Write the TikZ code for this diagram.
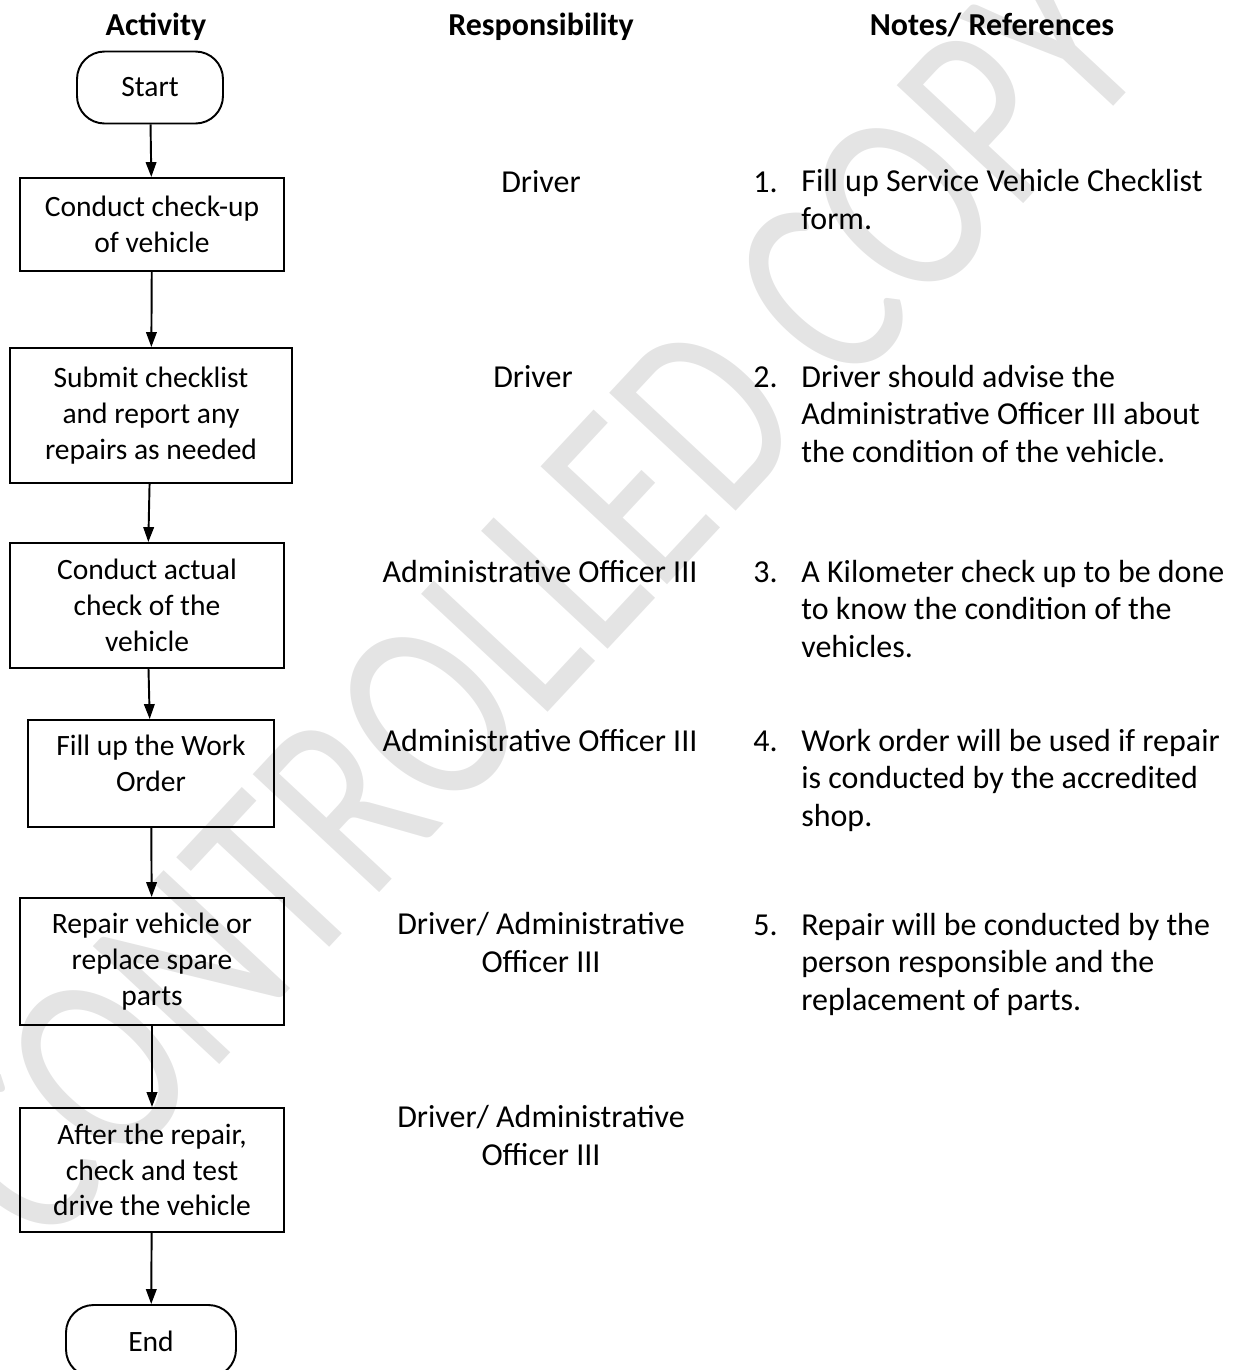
\documentclass[tikz,border=0pt]{standalone}
\usepackage{fontspec}
\setmainfont{Carlito}
\usepackage{tikz}
\usetikzlibrary{arrows.meta,positioning}
\definecolor{stampGray}{RGB}{228,228,228}
\newcommand{\flowfont}{\fontsize{18.2}{21.2}\selectfont}
\newcommand{\boxfont}{\fontsize{16.8}{20.4}\selectfont}
\tikzset{
  every node/.style={font=\flowfont},
  flowbox/.style={draw, line width=1.1pt, align=center, inner sep=2pt, font=\boxfont},
  terminal/.style={flowbox, rounded corners=0.55cm, minimum height=1.44cm},
  flowarrow/.style={line width=1.1pt, -{Triangle[length=8.5pt,width=6pt]}},
  colhead/.style={font=\flowfont\bfseries, anchor=base},
  resp/.style={align=center, anchor=base, inner sep=0pt},
  notenum/.style={anchor=base west, inner sep=0pt},
  notetext/.style={align=left, anchor=base west, inner sep=0pt},
}

\begin{document}
\begin{tikzpicture}[x=0.02cm, y=-0.02cm]
\useasboundingbox (0,0) rectangle (1235,1370);
\clip (0,0) rectangle (1235,1370);

% stamp behind everything
\node[text=stampGray, rotate=47, yscale=1.3, font=\fontsize{118}{118}\selectfont] (stamp) at (535,600) {CONTROLLED COPY};

\node[colhead] (hAct) at (156,35) {Activity};
\node[colhead] (hResp) at (541,35) {Responsibility};
\node[colhead] (hNotes) at (992,35) {Notes/ References};

% activity column
\node[terminal, minimum width=2.92cm] (start) at (150,87.5) {Start};
\node[flowbox, minimum width=5.28cm, minimum height=1.86cm] (act1) at (152,224.5) {Conduct check-up\\of vehicle};
\node[flowbox, minimum width=5.64cm, minimum height=2.7cm] (act2) at (151,415.5) {Submit checklist\\and report any\\repairs as needed};
\node[flowbox, minimum width=5.48cm, minimum height=2.5cm] (act3) at (147,605.5) {Conduct actual\\check of the\\vehicle};
\node[flowbox, minimum width=4.92cm, minimum height=2.14cm] (act4) at (151,773.5) {Fill up the Work\\Order\rule[-12pt]{0pt}{1pt}};
\node[flowbox, minimum width=5.28cm, minimum height=2.54cm] (act5) at (152,961.5) {Repair vehicle or\\replace spare\\parts};
\node[flowbox, minimum width=5.28cm, minimum height=2.48cm] (act6) at (152,1170) {After the repair,\\check and test\\drive the vehicle};
\node[terminal, minimum width=3.4cm] (finish) at (151,1341) {End};

\draw[flowarrow] (start) -- (act1);
\draw[flowarrow] (act1) -- (act2);
\draw[flowarrow] (act2) -- (act3);
\draw[flowarrow] (act3) -- (act4);
\draw[flowarrow] (act4) -- (act5);
\draw[flowarrow] (act5) -- (act6);
\draw[flowarrow] (act6) -- (finish);

% responsibility column (multi-line nodes sit on their last baseline)
\node[resp] (r1) at (541,192) {Driver};
\node[resp] (r2) at (533,387) {Driver};
\node[resp] (r3) at (540,582) {Administrative Officer III};
\node[resp] (r4) at (540,751) {Administrative Officer III};
\node[resp] (r5) at (541,972) {Driver/ Administrative\\Officer III};
\node[resp] (r6) at (541,1165) {Driver/ Administrative\\Officer III};

% notes column
\foreach \n/\y in {1/192,2/387,3/582,4/751,5/935}
  \node[notenum] (num\n) at (753,\y) {\n.};
\node[notetext] (note1) at (801,229) {Fill up Service Vehicle Checklist\\form.};
\node[notetext] (note2) at (801,462) {Driver should advise the\\Administrative Officer III about\\the condition of the vehicle.};
\node[notetext] (note3) at (801,657) {A Kilometer check up to be done\\to know the condition of the\\vehicles.};
\node[notetext] (note4) at (801,826) {Work order will be used if repair\\is conducted by the accredited\\shop.};
\node[notetext] (note5) at (801,1010) {Repair will be conducted by the\\person responsible and the\\replacement of parts.};
\end{tikzpicture}
\end{document}
